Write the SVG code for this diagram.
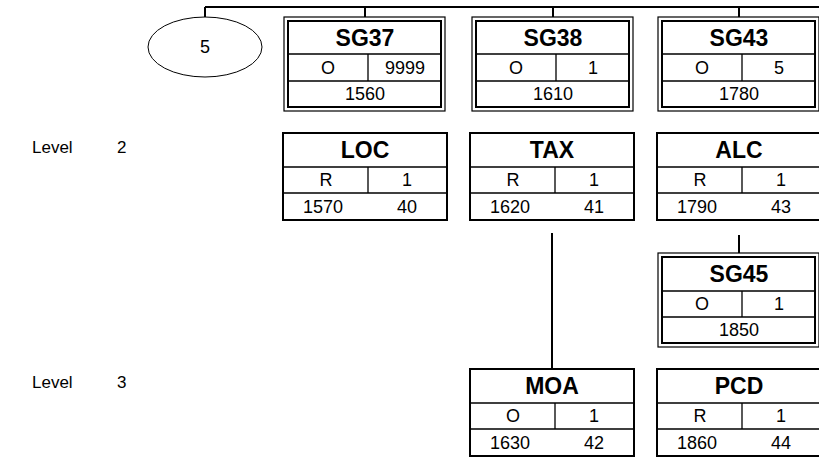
<svg xmlns="http://www.w3.org/2000/svg" width="819" height="457" viewBox="0 0 819 457">
<style>
  text { font-family: "Liberation Sans", Arial, sans-serif; fill: #000; }
  .t { font-size: 23px; font-weight: bold; text-anchor: middle; dominant-baseline: central; }
  .n { font-size: 18px; text-anchor: middle; dominant-baseline: central; }
  .l { font-size: 17px; dominant-baseline: central; }
  .ob { fill: #fff; stroke: #000; stroke-width: 1.2; }
  .ib { fill: none; stroke: #000; stroke-width: 2; }
  .sb { fill: #fff; stroke: #000; stroke-width: 2; }
  .rl { stroke: #000; stroke-width: 1.3; fill: none; }
  .cn { stroke: #000; stroke-width: 2; fill: none; }
</style>
<rect width="819" height="457" fill="#fff"/>
<g id="connectors">
  <path class="cn" d="M205 7 H819 M205 7 V17 M365 7 V17 M553 7 V17 M739 7 V17"/>
  <path class="cn" d="M552 233 V369"/>
  <path class="cn" d="M739 235 V253"/>
</g>
<g id="levels">
  <text class="l" x="32" y="147">Level</text>
  <text class="l" x="117" y="147">2</text>
  <text class="l" x="32" y="382">Level</text>
  <text class="l" x="117" y="382">3</text>
</g>
<g id="ellipse5">
  <ellipse cx="205" cy="47" rx="57" ry="30" fill="#fff" stroke="#000" stroke-width="1"/>
  <text class="n" x="205" y="47">5</text>
</g>
<g id="SG37">
  <rect class="ob" x="284" y="17" width="161" height="94"/>
  <rect class="ib" x="288" y="21" width="153" height="86"/>
  <path class="rl" d="M288 54 H441 M288 81 H441 M368 54 V81"/>
  <text class="t" x="365" y="38">SG37</text>
  <text class="n" x="328" y="68">O</text>
  <text class="n" x="405" y="68">9999</text>
  <text class="n" x="365" y="94">1560</text>
</g>
<g id="SG38">
  <rect class="ob" x="472" y="17" width="161" height="94"/>
  <rect class="ib" x="476" y="21" width="153" height="86"/>
  <path class="rl" d="M476 54 H629 M476 81 H629 M556 54 V81"/>
  <text class="t" x="553" y="38">SG38</text>
  <text class="n" x="516" y="68">O</text>
  <text class="n" x="593" y="68">1</text>
  <text class="n" x="553" y="94">1610</text>
</g>
<g id="SG43">
  <rect class="ob" x="658" y="17" width="161" height="94"/>
  <rect class="ib" x="662" y="21" width="153" height="86"/>
  <path class="rl" d="M662 54 H815 M662 81 H815 M742 54 V81"/>
  <text class="t" x="739" y="38">SG43</text>
  <text class="n" x="702" y="68">O</text>
  <text class="n" x="779" y="68">5</text>
  <text class="n" x="739" y="94">1780</text>
</g>
<g id="LOC">
  <rect class="sb" x="283" y="133" width="164" height="87"/>
  <path class="rl" d="M283 167 H447 M283 193 H447 M368 167 V193"/>
  <text class="t" x="365" y="150">LOC</text>
  <text class="n" x="326" y="180">R</text>
  <text class="n" x="407" y="180">1</text>
  <text class="n" x="323" y="207">1570</text>
  <text class="n" x="407" y="207">40</text>
</g>
<g id="TAX">
  <rect class="sb" x="470" y="133" width="164" height="87"/>
  <path class="rl" d="M470 167 H634 M470 193 H634 M555 167 V193"/>
  <text class="t" x="552" y="150">TAX</text>
  <text class="n" x="513" y="180">R</text>
  <text class="n" x="594" y="180">1</text>
  <text class="n" x="510" y="207">1620</text>
  <text class="n" x="594" y="207">41</text>
</g>
<g id="ALC">
  <rect class="sb" x="657" y="133" width="164" height="87"/>
  <path class="rl" d="M657 167 H821 M657 193 H821 M742 167 V193"/>
  <text class="t" x="739" y="150">ALC</text>
  <text class="n" x="700" y="180">R</text>
  <text class="n" x="781" y="180">1</text>
  <text class="n" x="697" y="207">1790</text>
  <text class="n" x="781" y="207">43</text>
</g>
<g id="SG45">
  <rect class="ob" x="658" y="253" width="161" height="94"/>
  <rect class="ib" x="662" y="257" width="153" height="86"/>
  <path class="rl" d="M662 291 H815 M662 317 H815 M742 291 V317"/>
  <text class="t" x="739" y="274">SG45</text>
  <text class="n" x="702" y="304">O</text>
  <text class="n" x="779" y="304">1</text>
  <text class="n" x="739" y="330">1850</text>
</g>
<g id="MOA">
  <rect class="sb" x="470" y="369" width="164" height="87"/>
  <path class="rl" d="M470 403 H634 M470 429 H634 M555 403 V429"/>
  <text class="t" x="552" y="386">MOA</text>
  <text class="n" x="513" y="416">O</text>
  <text class="n" x="594" y="416">1</text>
  <text class="n" x="510" y="443">1630</text>
  <text class="n" x="594" y="443">42</text>
</g>
<g id="PCD">
  <rect class="sb" x="657" y="369" width="164" height="87"/>
  <path class="rl" d="M657 403 H821 M657 429 H821 M742 403 V429"/>
  <text class="t" x="739" y="386">PCD</text>
  <text class="n" x="700" y="416">R</text>
  <text class="n" x="781" y="416">1</text>
  <text class="n" x="697" y="443">1860</text>
  <text class="n" x="781" y="443">44</text>
</g>
</svg>
